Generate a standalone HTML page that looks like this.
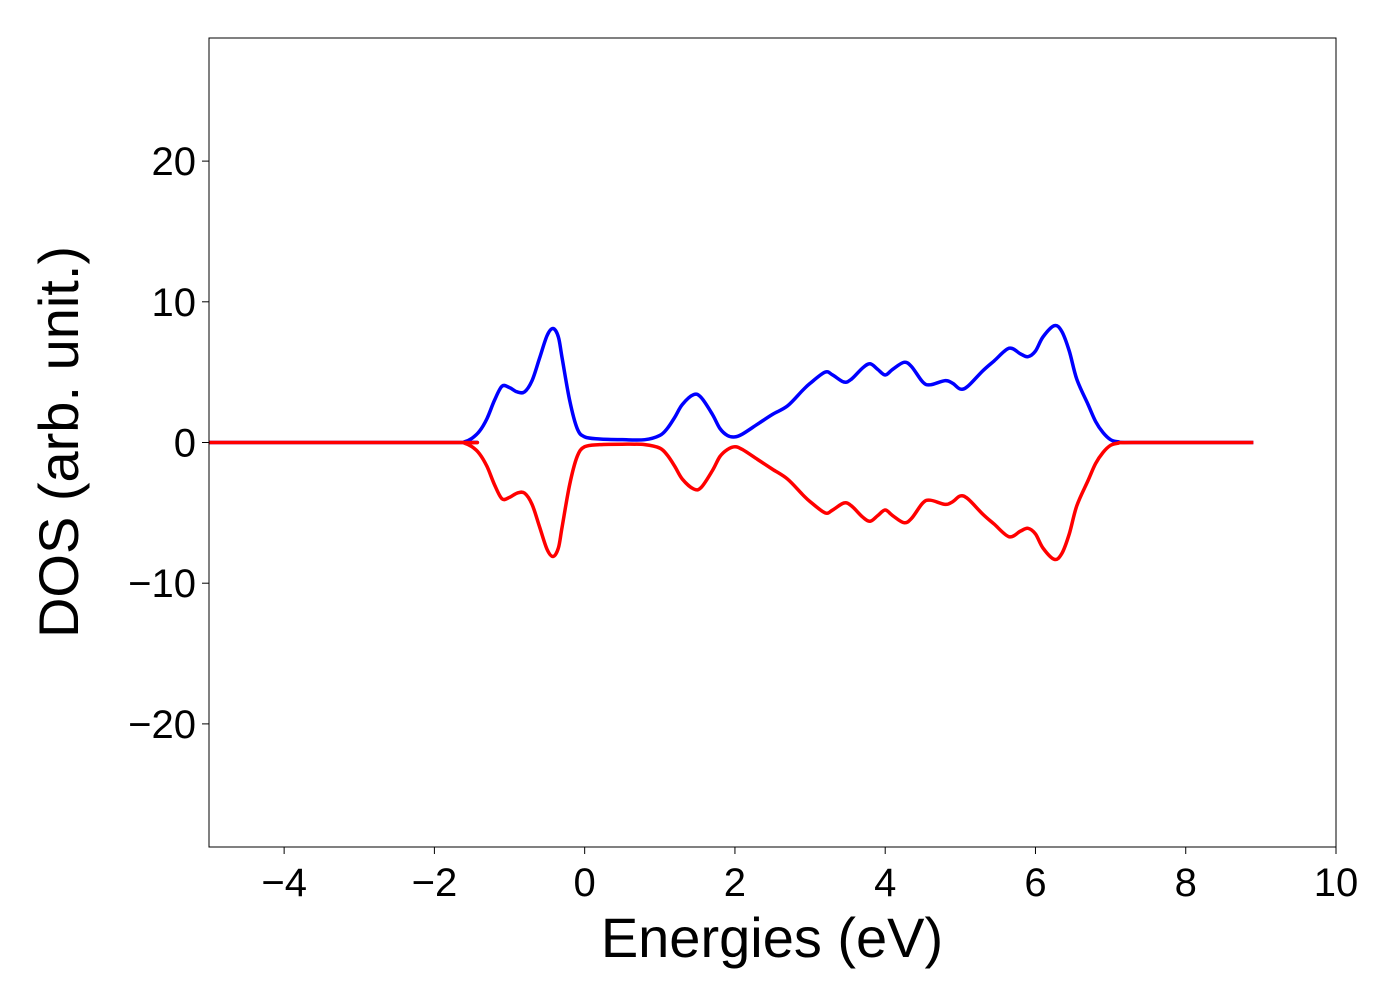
<!DOCTYPE html>
<html><head><meta charset="utf-8"><style>
html,body{margin:0;padding:0;background:#fff;}
svg{display:block;font-family:"Liberation Sans","DejaVu Sans",sans-serif;}
</style></head><body>
<svg id="chart" width="1400" height="1000">
<rect x="0" y="0" width="1400" height="1000" fill="#fff"/>
<g id="plot"></g>
<g id="axes"></g>
</svg>
<script>
const energies = [-5,-1.7,-1.6,-1.5,-1.4,-1.3,-1.2,-1.1,-1.0,-0.9,-0.8,-0.7,-0.6,-0.5,-0.42,-0.35,-0.3,-0.2,-0.1,0,0.2,0.5,0.8,1.0,1.1,1.2,1.3,1.45,1.55,1.7,1.8,1.9,2.0,2.1,2.3,2.5,2.7,2.9,3.0,3.2,3.3,3.45,3.55,3.7,3.8,3.9,4.0,4.1,4.25,4.35,4.5,4.6,4.8,4.9,5.0,5.1,5.3,5.45,5.65,5.8,5.9,6.0,6.1,6.25,6.35,6.45,6.55,6.7,6.8,6.9,7.0,7.1,7.3,8.9];
const dosUp = [0,0,0.05,0.3,0.8,1.7,3.0,4.0,3.9,3.6,3.6,4.4,6.0,7.6,8.1,7.5,6.0,3.0,1.0,0.4,0.25,0.2,0.2,0.5,1.0,1.8,2.7,3.4,3.2,2.0,1.0,0.5,0.4,0.6,1.3,2.0,2.6,3.7,4.2,5.0,4.8,4.3,4.5,5.3,5.6,5.2,4.8,5.2,5.7,5.4,4.3,4.1,4.4,4.2,3.8,4.0,5.1,5.8,6.7,6.3,6.1,6.5,7.5,8.3,7.9,6.5,4.5,2.7,1.5,0.7,0.2,0.05,0,0];
const dosDown = [0,0,-0.05,-0.3,-0.8,-1.7,-3.0,-4.0,-3.9,-3.6,-3.6,-4.4,-6.0,-7.6,-8.1,-7.5,-6.0,-3.0,-1.0,-0.3,-0.15,-0.12,-0.15,-0.4,-0.9,-1.7,-2.6,-3.3,-3.2,-2.0,-1.0,-0.5,-0.3,-0.5,-1.2,-1.9,-2.6,-3.7,-4.2,-5.0,-4.8,-4.3,-4.5,-5.3,-5.6,-5.2,-4.8,-5.2,-5.7,-5.4,-4.3,-4.1,-4.4,-4.2,-3.8,-4.0,-5.1,-5.8,-6.7,-6.3,-6.1,-6.5,-7.5,-8.3,-7.9,-6.5,-4.5,-2.7,-1.5,-0.7,-0.2,-0.05,0,0];
const xTicks = [-4,-2,0,2,4,6,8,10];
const xTickLabels = ["\u22124","\u22122","0","2","4","6","8","10"];
const yTicks = [-20,-10,0,10,20];
const yTickLabels = ["\u221220","\u221210","0","10","20"];

const L=209,R=1336,T=38,B=847, xMin=-5,xMax=10,yMin=-28.75,yMax=28.75;
const X=v=>L+(v-xMin)/(xMax-xMin)*(R-L);
const Y=v=>B-(v-yMin)/(yMax-yMin)*(B-T);
const NS="http://www.w3.org/2000/svg";
function mk(tag,attrs,parent){const e=document.createElementNS(NS,tag);for(const k in attrs)e.setAttribute(k,attrs[k]);parent.appendChild(e);return e;}
function pathFor(xs,ys){
  const p=xs.map((x,i)=>[X(x),Y(ys[i])]);
  let d="M"+p[0][0]+","+p[0][1];
  for(let i=0;i<p.length-1;i++){
    const p0=p[Math.max(0,i-1)],p1=p[i],p2=p[i+1],p3=p[Math.min(p.length-1,i+2)];
    const c1x=p1[0]+(p2[0]-p0[0])/6,c1y=p1[1]+(p2[1]-p0[1])/6;
    const c2x=p2[0]-(p3[0]-p1[0])/6,c2y=p2[1]-(p3[1]-p1[1])/6;
    d+=" C"+c1x+","+c1y+" "+c2x+","+c2y+" "+p2[0]+","+p2[1];
  }
  return d;
}
const plot=document.getElementById('plot'), axes=document.getElementById('axes');
const up=mk('path',{d:pathFor(energies,dosUp),fill:'none',stroke:'#0000ff','stroke-width':3.5,'stroke-linejoin':'round'},plot);


const dn=mk('path',{d:pathFor(energies,dosDown),fill:'none',stroke:'#ff0000','stroke-width':3.5,'stroke-linejoin':'round'},plot);


const frame=mk('rect',{x:L,y:T,width:R-L,height:B-T,fill:'none',stroke:'#000','stroke-width':1},axes);


xTicks.forEach((v,i)=>{
  const t=mk('line',{x1:X(v),x2:X(v),y1:B,y2:B+7,stroke:'#000','stroke-width':1},axes);
  
  
  const l=mk('text',{x:X(v),y:B+49,'font-size':40,'text-anchor':'middle',fill:'#000'},axes);
  l.textContent=xTickLabels[i];
  
  
});
yTicks.forEach((v,i)=>{
  const t=mk('line',{x1:L-7,x2:L,y1:Y(v),y2:Y(v),stroke:'#000','stroke-width':1},axes);
  
  
  const l=mk('text',{x:L-13,y:Y(v)+14,'font-size':40,'text-anchor':'end',fill:'#000'},axes);
  l.textContent=yTickLabels[i];
  
  
});
const xt=mk('text',{x:772,y:957,'font-size':56,'text-anchor':'middle',fill:'#000'},axes);
xt.textContent="Energies (eV)";


const yt=mk('text',{x:0,y:0,'font-size':56,'text-anchor':'middle',fill:'#000',transform:'translate(78,442) rotate(-90)'},axes);
yt.textContent="DOS (arb. unit.)";


</script>
</body></html>
